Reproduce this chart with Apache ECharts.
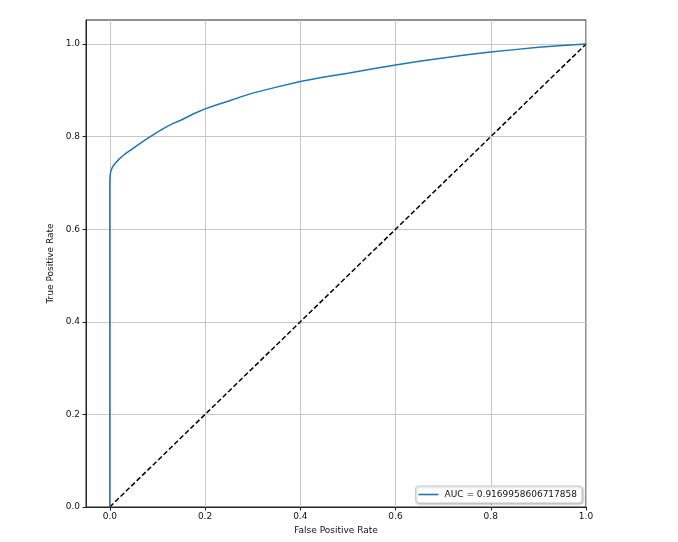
<!DOCTYPE html>
<html>
<head>
<meta charset="utf-8">
<script src="https://cdn.jsdelivr.net/npm/echarts@6/dist/echarts.min.js"></script>
<style>
html,body{margin:0;padding:0;background:#fff;}
#chart{width:678px;height:542px;}
</style>
</head>
<body>
<div id="chart"></div>
<script>
// Data
const fpr = [0, 0, 0.0005, 0.002, 0.005, 0.01, 0.02, 0.03, 0.045, 0.06, 0.08, 0.1, 0.115, 0.13, 0.15, 0.175, 0.2, 0.225, 0.25, 0.275, 0.3, 0.35, 0.4, 0.45, 0.5, 0.55, 0.6, 0.65, 0.7, 0.75, 0.8, 0.85, 0.9, 0.95, 1.0];
const tpr = [0, 0.70, 0.715, 0.725, 0.733, 0.741, 0.752, 0.761, 0.772, 0.783, 0.797, 0.810, 0.819, 0.827, 0.836, 0.849, 0.860, 0.869, 0.877, 0.886, 0.894, 0.907, 0.919, 0.929, 0.937, 0.946, 0.955, 0.963, 0.970, 0.977, 0.983, 0.988, 0.993, 0.997, 1.0];
const diagX = [0, 1];
const diagY = [0, 1];
const xTicks = [0.0, 0.2, 0.4, 0.6, 0.8, 1.0];
const yTicks = [0.0, 0.2, 0.4, 0.6, 0.8, 1.0];
const legendLabel = 'AUC = 0.9169958606717858';
const xTitle = 'False Positive Rate';
const yTitle = 'True Positive Rate';

const chart = echarts.init(document.getElementById('chart'), null, {renderer: 'canvas'});
const font = 'DejaVu Sans';
const txt = '#111';
chart.setOption({
  animation: false,
  backgroundColor: '#fff',
  grid: {left: 86, right: 92, top: 20, bottom: 35, show: true, borderColor: '#222', borderWidth: 1, backgroundColor: 'transparent'},
  legend: {
    data: [{name: legendLabel, icon: 'rect'}],
    right: 96, bottom: 39,
    orient: 'horizontal',
    padding: [4, 5, 4, 3],
    itemWidth: 20, itemHeight: 1.6,
    itemGap: 6,
    borderColor: '#ccc', borderWidth: 1, borderRadius: 3,
    backgroundColor: '#fff',
    shadowBlur: 2, shadowColor: 'rgba(0,0,0,0.25)', shadowOffsetX: 1, shadowOffsetY: 1,
    textStyle: {fontFamily: font, fontSize: 9, color: txt, padding: [0,0,0,1]}
  },
  xAxis: {
    type: 'value', min: -0.05, max: 1.0,
    name: xTitle, nameLocation: 'middle', nameGap: 16,
    nameTextStyle: {fontFamily: font, fontSize: 9, color: txt},
    axisLine: {show: true, onZero: false, lineStyle: {color: '#222', width: 1}},
    axisTick: {show: true, length: 3.5, lineStyle: {color: '#222'}, customValues: xTicks},
    axisLabel: {fontFamily: font, fontSize: 9, color: txt, margin: 5, customValues: xTicks, formatter: v => v.toFixed(1)},
    splitLine: {show: true, lineStyle: {color: '#c6c6c6', width: 1}}
  },
  yAxis: {
    type: 'value', min: 0, max: 1.052,
    name: yTitle, nameLocation: 'middle', nameGap: 25, nameRotate: 90,
    nameTextStyle: {fontFamily: font, fontSize: 9, color: txt},
    axisLine: {show: true, onZero: false, lineStyle: {color: '#222', width: 1}},
    axisTick: {show: true, length: 3.5, lineStyle: {color: '#222'}, customValues: yTicks},
    axisLabel: {fontFamily: font, fontSize: 9, color: txt, margin: 6, customValues: yTicks, formatter: v => v.toFixed(1)},
    splitLine: {show: true, lineStyle: {color: '#c6c6c6', width: 1}}
  },
  series: [
    {
      name: legendLabel, type: 'line', symbol: 'none', showSymbol: false,
      data: fpr.map((x, i) => [x, tpr[i]]),
      lineStyle: {color: '#1f77b4', width: 1.5},
      itemStyle: {color: '#1f77b4'},
      z: 3
    },
    {
      name: 'diag', type: 'line', symbol: 'none', showSymbol: false,
      data: diagX.map((x, i) => [x, diagY[i]]),
      lineStyle: {color: '#000', width: 1.5, type: [5, 2.5]},
      itemStyle: {color: '#000'},
      z: 2
    }
  ]
});
</script>
</body>
</html>
